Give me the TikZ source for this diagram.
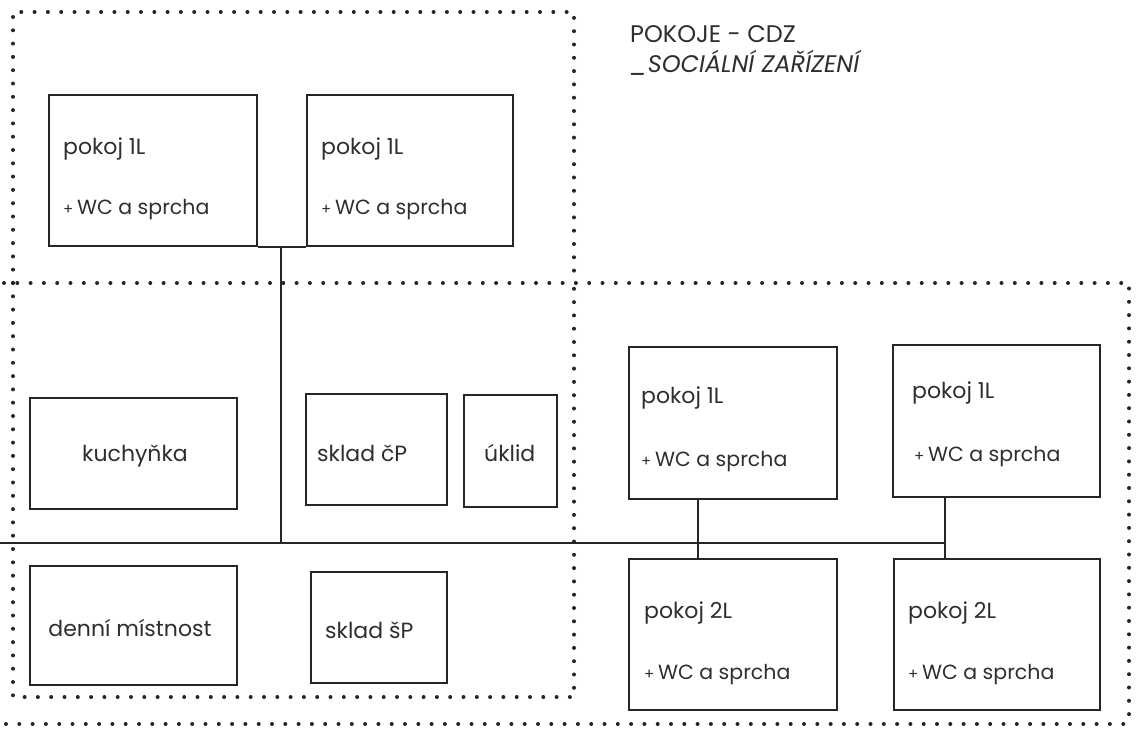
\documentclass[tikz,border=0pt]{standalone}
\usepackage{fontspec}
\setmainfont{Poppins}
\usetikzlibrary{calc}
\definecolor{ink}{HTML}{262626}
\definecolor{txt}{HTML}{2e2e2e}
\newcommand\pluswc{{\fontsize{15}{15}\selectfont+}\,{\fontsize{20.5}{24}\selectfont WC a sprcha}}
\begin{document}
\begin{tikzpicture}[x=1pt,y=-1pt,
  room/.style={draw=ink, line width=1.8pt, inner sep=0pt, anchor=north west},
  dotline/.style={draw=ink, line width=4pt, line cap=round, dash pattern=on 0pt off 13.3pt},
  link/.style={draw=ink, line width=1.8pt},
  lbl/.style={font=\fontsize{22}{26}\selectfont, text=txt, inner sep=0pt, anchor=base west},
  clbl/.style={lbl, anchor=base},
  head/.style={lbl, font=\fontsize{24}{28}\selectfont}]
\useasboundingbox (0,0) rectangle (1138,731);

% zones (dotted outlines)
\draw[dotline] (13,283) -- (13,12) -- (574,12) -- (574,283);
\draw[dotline] (13,283) -- (13,697) -- (574,697) -- (574,283);
\draw[dotline] (4,283) -- (1129,283) -- (1129,724);
\draw[dotline] (6,724) -- (1129,724);

% rooms
\node[room, minimum width=208pt, minimum height=151pt] (A) at (48,94) {};
\node[room, minimum width=206pt, minimum height=151pt] (B) at (306,94) {};
\node[room, minimum width=207pt, minimum height=111pt] (C) at (29,397) {};
\node[room, minimum width=141pt, minimum height=111pt] (D) at (305,393) {};
\node[room, minimum width=93pt, minimum height=112pt] (E) at (463,394) {};
\node[room, minimum width=207pt, minimum height=119pt] (F) at (29,565) {};
\node[room, minimum width=136pt, minimum height=111pt] (G) at (310,571) {};
\node[room, minimum width=208pt, minimum height=152pt] (H) at (628,346) {};
\node[room, minimum width=207pt, minimum height=152pt] (I) at (892,344) {};
\node[room, minimum width=208pt, minimum height=151pt] (J) at (628,558) {};
\node[room, minimum width=206pt, minimum height=151pt] (K) at (893,558) {};

% labels
\node[lbl] (tA1) at (63,154) {pokoj 1L};
\node[lbl] (tA2) at (63,214) {\pluswc};
\node[lbl] (tB1) at (321,154) {pokoj 1L};
\node[lbl] (tB2) at (321,214) {\pluswc};
\node[clbl] (tC) at (135,461) {kuchyňka};
\node[lbl] (tD) at (317,461) {sklad čP};
\node[lbl] (tE) at (484,461) {úklid};
\node[clbl] (tF) at (130,636) {denní místnost};
\node[lbl] (tG) at (325,638) {sklad šP};
\node[lbl] (tH1) at (641,403) {pokoj 1L};
\node[lbl] (tH2) at (641,466) {\pluswc};
\node[lbl] (tI1) at (912,398) {pokoj 1L};
\node[lbl] (tI2) at (914,461) {\pluswc};
\node[lbl] (tJ1) at (644,618) {pokoj 2L};
\node[lbl] (tJ2) at (644,679) {\pluswc};
\node[lbl] (tK1) at (908,618) {pokoj 2L};
\node[lbl] (tK2) at (908,679) {\pluswc};

% title
\node[head] (title) at (630,42) {POKOJE - CDZ};
\node[head, font=\fontsize{24}{28}\selectfont\itshape] (subtitle) at (630,72) {\_SOCIÁLNÍ ZAŘÍZENÍ};

% corridor connections
\coordinate (busL) at (0,543);
\coordinate (hub) at (281,543);
\coordinate (c1) at (698,543);
\coordinate (c2) at (945,543);
\draw[link] (busL) -- (c2);
\draw[link] (A.south east) -- (B.south west);
\draw[link] (hub |- A.south) -- (hub);
\draw[link] (c1 |- H.south) -- (c1 |- J.north);
\draw[link] (c2 |- I.south) -- (c2 |- K.north);
\end{tikzpicture}
\end{document}
